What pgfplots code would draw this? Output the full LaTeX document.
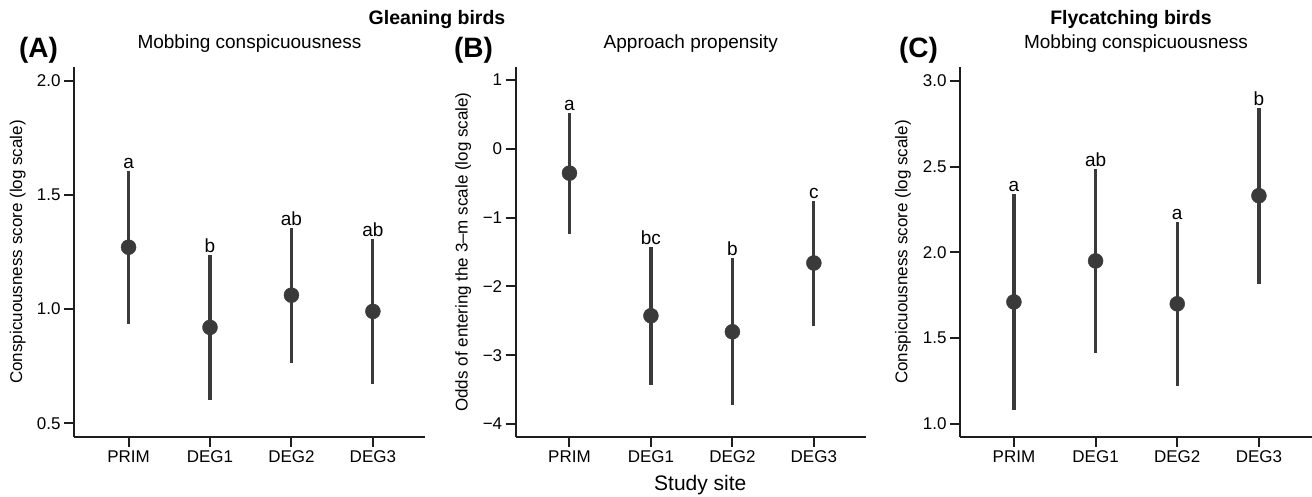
\documentclass[border=0pt]{standalone}
\usepackage{fontspec}
\setmainfont{Liberation Sans}
\usepackage{pgfplots}
\usepackage{pgfplotstable}
\pgfplotsset{compat=1.18}
\definecolor{ptgray}{RGB}{58,58,58}
\definecolor{axgray}{RGB}{30,30,30}

% x = site index, y = estimate, lo/hi = interval ends, lab = letter group
\pgfplotstableread{
x y lo hi lab
0 1.271 0.936 1.606 a
1 0.920 0.603 1.238 b
2 1.061 0.764 1.356 ab
3 0.990 0.673 1.306 ab
}\dataA
\pgfplotstableread{
x y lo hi lab
0 -0.353 -1.24 0.519 a
1 -2.427 -3.44 -1.43 bc
2 -2.660 -3.72 -1.59 b
3 -1.660 -2.57 -0.756 c
}\dataB
\pgfplotstableread{
x y lo hi lab
0 1.711 1.082 2.340 a
1 1.950 1.416 2.484 ab
2 1.700 1.224 2.175 a
3 2.330 1.816 2.843 b
}\dataC

\pgfplotsset{
  panel/.style={
    scale only axis, width=351pt, height=370pt, anchor=south west,
    axis x line*=bottom, axis y line*=left,
    axis line style={line width=2pt, -, color=axgray},
    tick style={line width=2pt, color=axgray},
    tick align=outside, major tick length=10pt,
    xtick={0,1,2,3}, xticklabels={PRIM,DEG1,DEG2,DEG3},
    tick label style={font=\fontsize{17}{20}\selectfont},
    title style={font=\fontsize{19}{22}\selectfont, at={(0.5,1)}, anchor=center, yshift=17pt},
    ylabel style={font=\fontsize{17}{20}\selectfont, anchor=center},
    clip=false,
  },
  est/.style={only marks, mark=*, mark size=7.5pt, color=ptgray,
    error bars/.cd, y dir=both, y explicit,
    error mark=none, error bar style={line width=3.2pt, color=ptgray}},
  lett/.style={draw=none, mark=none, nodes near coords, point meta=explicit symbolic,
    nodes near coords style={anchor=base, inner sep=0pt, yshift=2.5pt,
      font=\fontsize{19}{22}\selectfont, text=black}},
}

\begin{document}
\begin{tikzpicture}[x=1pt,y=1pt]
\useasboundingbox (0,0) rectangle (1312,497);

% (A) gleaning, mobbing
\begin{axis}[panel, at={(74pt,60pt)},
  xmin=-0.67, xmax=3.64, ymin=0.44, ymax=2.06,
  ytick={0.5,1,1.5,2}, yticklabels={0.5,1.0,1.5,2.0},
  title={Mobbing conspicuousness},
  ylabel={Conspicuousness score (log scale)},
  ylabel style={at={(axis description cs:-0.16,0.5)}}]
\addplot[est] table[x=x, y=y,
  y error plus expr=\thisrow{hi}-\thisrow{y},
  y error minus expr=\thisrow{y}-\thisrow{lo}] {\dataA};
\addplot[lett] table[x=x, y=hi, meta=lab] {\dataA};
\end{axis}

% (B) gleaning, approach
\begin{axis}[panel, at={(515.7pt,60pt)}, width=350.3pt,
  xmin=-0.66, xmax=3.64, ymin=-4.19, ymax=1.19,
  ytick={-4,-3,-2,-1,0,1}, yticklabels={−4,−3,−2,−1,0,1},
  title={Approach propensity},
  ylabel={Odds of entering the 3–m scale (log scale)},
  ylabel style={at={(axis description cs:-0.15,0.5)}},
  xlabel={Study site},
  xlabel style={font=\fontsize{21}{24}\selectfont, at={(axis description cs:0.527,0)}, anchor=center, yshift=-48pt}]
\addplot[est] table[x=x, y=y,
  y error plus expr=\thisrow{hi}-\thisrow{y},
  y error minus expr=\thisrow{y}-\thisrow{lo}] {\dataB};
\addplot[lett] table[x=x, y=hi, meta=lab] {\dataB};
\end{axis}

% (C) flycatching, mobbing
\begin{axis}[panel, at={(960pt,60pt)}, width=352pt,
  xmin=-0.66, xmax=3.65, ymin=0.924, ymax=3.08,
  ytick={1,1.5,2,2.5,3}, yticklabels={1.0,1.5,2.0,2.5,3.0},
  title={Mobbing conspicuousness},
  ylabel={Conspicuousness score (log scale)},
  ylabel style={at={(axis description cs:-0.162,0.5)}}]
\addplot[est] table[x=x, y=y,
  y error plus expr=\thisrow{hi}-\thisrow{y},
  y error minus expr=\thisrow{y}-\thisrow{lo}] {\dataC};
\addplot[lett] table[x=x, y=hi, meta=lab] {\dataC};
\end{axis}

% group titles and panel letters
\node[font=\bfseries\fontsize{19.5}{23}\selectfont] at (437,477) {Gleaning birds};
\node[font=\bfseries\fontsize{19.5}{23}\selectfont] at (1131,477) {Flycatching birds};
\node[font=\bfseries\fontsize{28}{31}\selectfont] at (38.5,447) {(A)};
\node[font=\bfseries\fontsize{28}{31}\selectfont] at (473.5,447) {(B)};
\node[font=\bfseries\fontsize{28}{31}\selectfont] at (918.5,447) {(C)};
\end{tikzpicture}
\end{document}
